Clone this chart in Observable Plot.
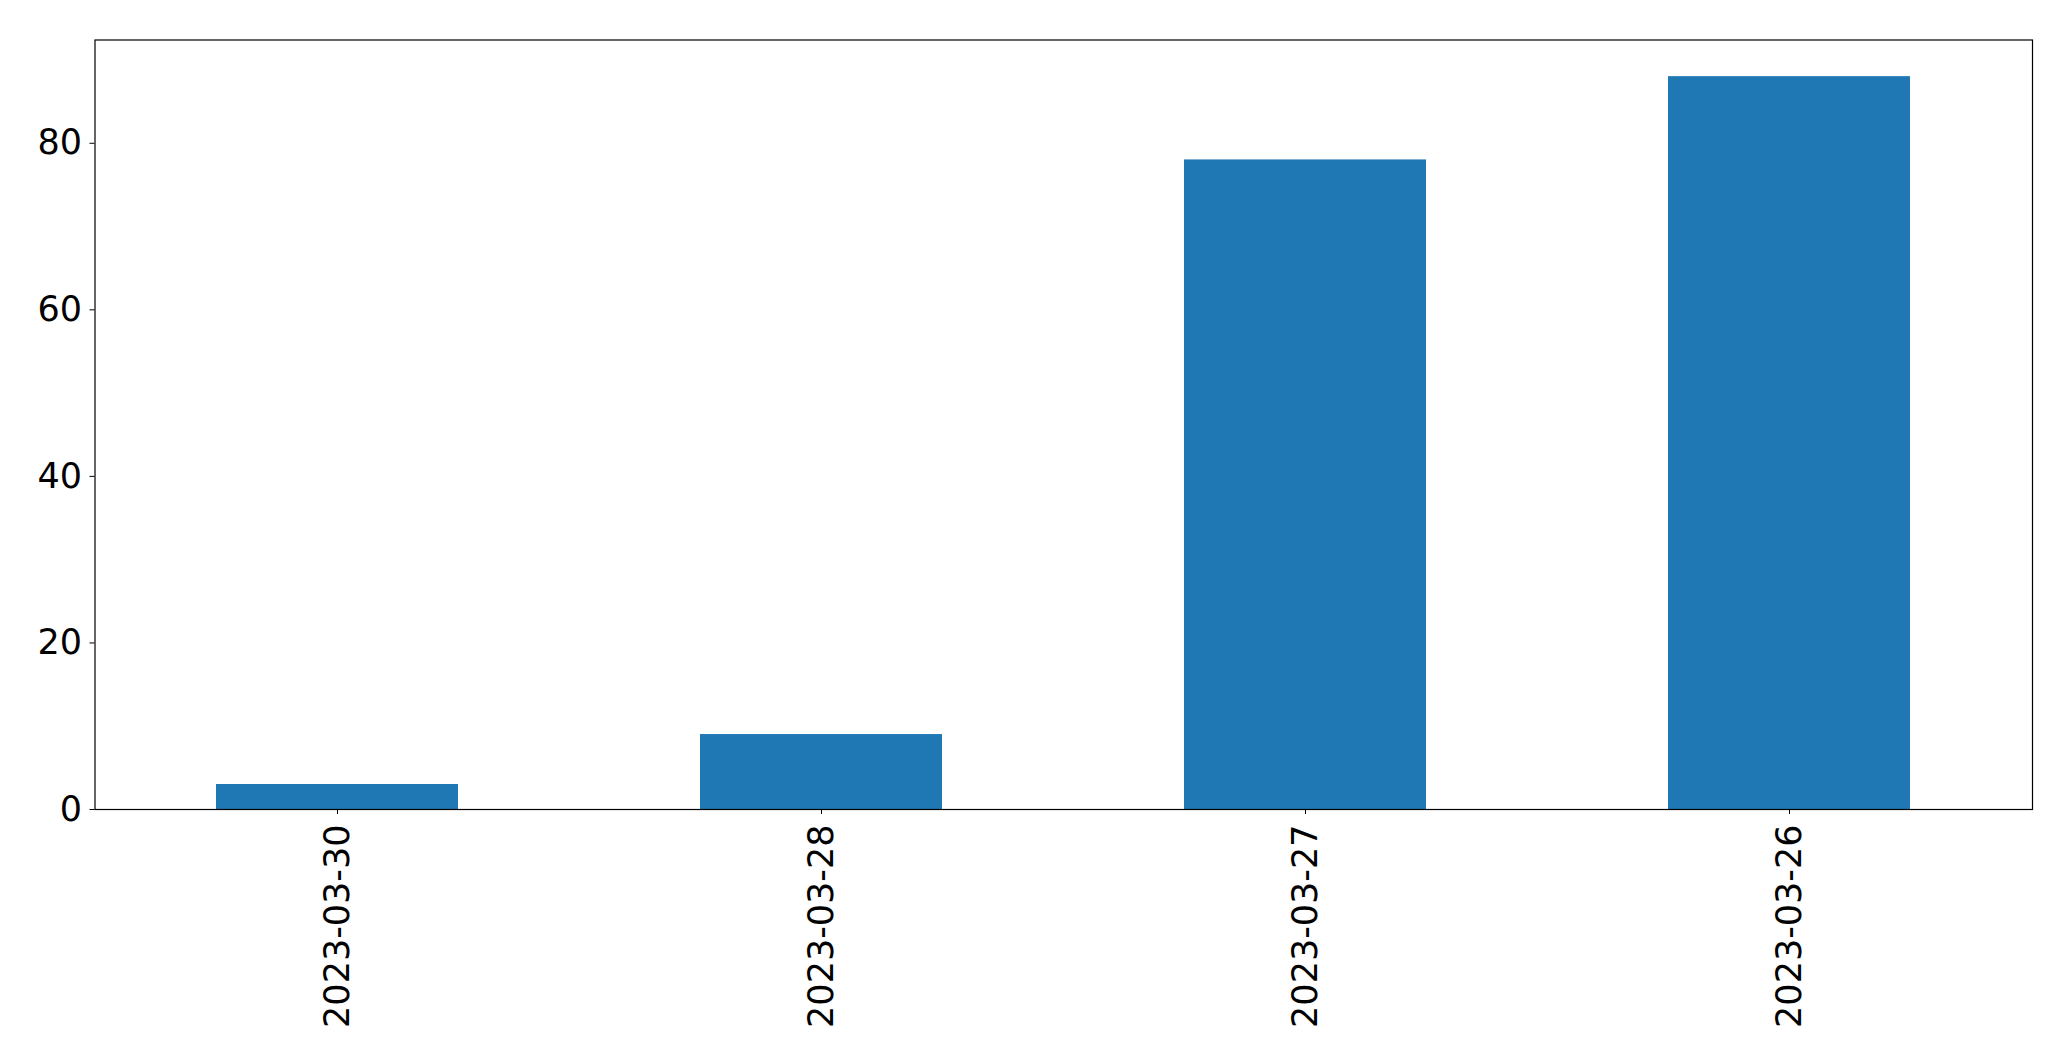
<!DOCTYPE html>
<html>
<head>
<meta charset="utf-8">
<script src="https://cdn.jsdelivr.net/npm/d3@7"></script>
<script src="https://cdn.jsdelivr.net/npm/@observablehq/plot@0.6"></script>
<style>
  html, body { margin: 0; padding: 0; background: #fff; }
  #chart svg { display: block; }
</style>
</head>
<body>
<div id="chart"></div>
<script>
const dates = ["2023-03-30", "2023-03-28", "2023-03-27", "2023-03-26"];
const counts = [3, 9, 78, 88];
const yTicks = [0, 20, 40, 60, 80];

const data = dates.map((d, i) => ({date: d, count: counts[i]}));

const chart = Plot.plot({
  width: 2071,
  height: 1061,
  marginLeft: 94.5,
  marginRight: 39,
  marginTop: 39.5,
  marginBottom: 252,
  style: {fontFamily: "DejaVu Sans", fontSize: "35px", color: "black", background: "white"},
  x: {type: "band", domain: dates, paddingInner: 0.5, paddingOuter: 0.25, label: null},
  y: {domain: [0, 92.4], label: null},
  marks: [
    Plot.barY(data, {x: "date", y: "count", fill: "#1f77b4"}),
    Plot.frame({stroke: "black", strokeWidth: 1.2, strokeOpacity: 1}),
    Plot.axisY({ticks: yTicks, tickSize: 5, tickPadding: 8, label: null, fontSize: 35, strokeOpacity: 1}),
    Plot.axisX({tickSize: 5, tickRotate: -90, tickPadding: 10, label: null, fontSize: 35, strokeOpacity: 1})
  ]
});
document.getElementById("chart").appendChild(chart);
</script>
</body>
</html>
